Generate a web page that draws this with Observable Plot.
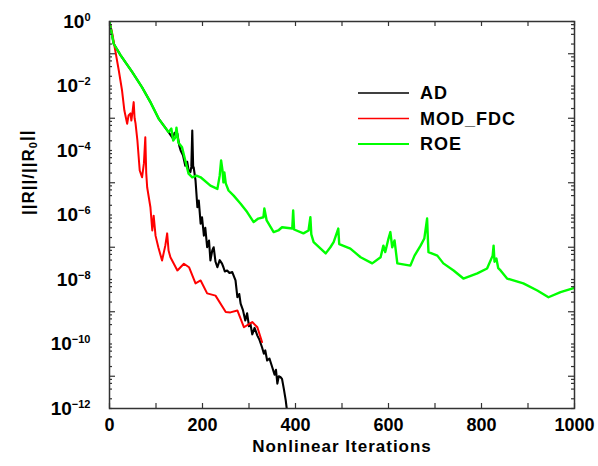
<!DOCTYPE html>
<html><head><meta charset="utf-8">
<script src="https://cdn.jsdelivr.net/npm/d3@7"></script>
<script src="https://cdn.jsdelivr.net/npm/@observablehq/plot@0.6"></script>
<style>body{margin:0;background:#fff} svg{display:block}</style>
</head><body><div id="chart"></div>
<script>
const seriesNames = ["AD", "MOD_FDC", "ROE"];
const seriesColors = ["#000000", "#ff0000", "#00ff00"];
const seriesWidths = [2.1, 2, 2.4];
const legendWidths = [1.3, 1.3, 2.2];

const xTickLabels = [0, 200, 400, 600, 800, 1000];
const xTicks = [0, 100, 200, 300, 400, 500, 600, 700, 800, 900, 1000];
const yTickLabels = [1e0, 1e-2, 1e-4, 1e-6, 1e-8, 1e-10, 1e-12];
const yLongTicks = [1e-1, 1e-3, 1e-5, 1e-7, 1e-9, 1e-11];
const yMinorMult = [1, 2, 4, 6, 8];

const xLabel = "Nonlinear Iterations";
const yLabel = "||R||/||R0||";

// AD (log10 of residual ratio)
const adIter = [0,9,24,49,70,88,106,127,136,140,146,150,153,158,163,167,170,174,176,178,180,181,185,189,192,196,199,203,206,210,214,217,221,224,228,232,237,242,245,248,253,258,264,271,275,279,282,287,292,296,300,303,307,312,318,322,328,332,335,339,344,350,355,358,361,364,368,371,375,379,382];
const adExp  = [0,-0.69,-1.05,-1.57,-2.04,-2.50,-3.02,-3.43,-3.62,-3.45,-3.48,-3.85,-4.00,-4.15,-4.47,-4.35,-4.60,-4.67,-4.50,-3.38,-4.55,-4.52,-4.93,-5.76,-5.55,-6.27,-6.07,-6.64,-6.40,-7.00,-6.79,-7.41,-7.10,-7.00,-7.45,-7.62,-7.40,-7.51,-7.62,-7.75,-7.72,-7.80,-7.77,-8.03,-8.55,-8.45,-8.75,-8.95,-9.27,-9.05,-9.45,-9.37,-9.70,-9.50,-9.74,-9.85,-10.10,-10.30,-10.20,-10.51,-10.45,-10.72,-10.95,-10.80,-11.23,-11.00,-11.03,-11.08,-11.40,-11.75,-12.10];

// MOD_FDC
const fdcIter = [0,6,13,20,27,32,38,41,45,47,50,52,54,56,60,65,70,74,77,79,81,88,92,95,99,105,113,120,124,127,131,146,160,171,185,196,210,228,250,260,275,289,307,318,328];
const fdcExp  = [0,-0.38,-0.95,-1.52,-2.14,-2.76,-3.17,-2.91,-2.85,-3.07,-2.75,-2.50,-3.00,-3.16,-3.69,-4.62,-4.83,-4.40,-3.59,-4.70,-5.14,-5.76,-6.48,-6.02,-6.64,-7.00,-7.41,-6.95,-6.57,-7.10,-7.31,-7.72,-7.51,-7.62,-8.12,-8.03,-8.43,-8.50,-9.01,-9.02,-8.96,-9.48,-9.32,-9.48,-9.94];

// ROE
const roeIter = [0,9,24,49,70,88,106,127,133,137,142,144,148,156,163,170,178,187,196,217,232,237,240,243,245,247,250,256,267,282,296,310,320,331,333,338,353,363,371,393,395,397,417,428,432,434,439,465,475,482,492,494,518,540,565,583,589,593,600,604,608,613,619,647,656,669,677,683,685,686,705,718,740,761,791,812,824,826,828,832,836,841,855,890,920,944,970,1000];
const roeExp  = [0,-0.69,-1.05,-1.57,-2.04,-2.50,-3.02,-3.43,-3.32,-3.69,-3.59,-3.29,-3.75,-3.90,-4.31,-4.72,-4.83,-4.78,-4.83,-5.09,-5.19,-4.78,-4.31,-4.62,-4.99,-4.68,-5.02,-5.24,-5.40,-5.65,-5.91,-6.22,-6.11,-6.07,-5.80,-6.17,-6.53,-6.48,-6.38,-6.42,-5.86,-6.45,-6.57,-6.48,-6.07,-6.60,-6.84,-7.19,-7.00,-6.84,-6.42,-6.90,-7.04,-7.31,-7.50,-7.31,-6.95,-7.15,-6.73,-6.53,-7.00,-6.79,-7.50,-7.57,-7.26,-6.95,-6.73,-6.11,-6.85,-7.15,-7.26,-7.50,-7.72,-7.97,-7.81,-7.66,-7.26,-6.95,-7.45,-7.35,-7.65,-7.72,-7.97,-8.12,-8.34,-8.55,-8.39,-8.26];

const rows = [];
[[adIter, adExp], [fdcIter, fdcExp], [roeIter, roeExp]].forEach(([it, ex], s) => {
  it.forEach((v, i) => rows.push({series: seriesNames[s], iter: v, r: Math.pow(10, ex[i])}));
});

const yShortTicks = [];
for (let k = 0; k <= 12; k++) {
  for (const m of yMinorMult) {
    const v = m * Math.pow(10, -k);
    if (v <= 1 && v >= 1e-12 && !(m === 1 && k % 2 === 1)) yShortTicks.push(v);
  }
}

const W = 598, H = 466, mL = 109, mR = 24, mT = 21, mB = 58;
const pw = W - mL - mR, ph = H - mT - mB;
const font = "'Liberation Sans', Arial, Helvetica, sans-serif";
const tickStroke = "#333";

const lineMarks = seriesNames.map((name, i) =>
  Plot.line(rows.filter(d => d.series === name), {x: "iter", y: "r", stroke: seriesColors[i], strokeWidth: seriesWidths[i], clip: true})
);

const plot = Plot.plot({
  width: W, height: H,
  marginLeft: mL, marginRight: mR, marginTop: mT, marginBottom: mB,
  style: {fontFamily: font, fontWeight: "bold", fontSize: "18px", color: "#000", background: "#fff"},
  x: {domain: [0, 1000]},
  y: {type: "log", domain: [1e-12, 1]},
  marks: [
    ...lineMarks,
    Plot.frame({stroke: tickStroke, strokeWidth: 1.5}),
    Plot.tickY(yLongTicks, {y: d => d, stroke: tickStroke, strokeWidth: 1.2, insetRight: pw - 6}),
    Plot.tickY(yShortTicks, {y: d => d, stroke: tickStroke, strokeWidth: 1.2, insetRight: pw - 3}),
    Plot.tickY(yLongTicks, {y: d => d, stroke: tickStroke, strokeWidth: 1.2, insetLeft: pw - 6}),
    Plot.tickY(yShortTicks, {y: d => d, stroke: tickStroke, strokeWidth: 1.2, insetLeft: pw - 3}),
    Plot.tickX(xTicks, {x: d => d, stroke: tickStroke, strokeWidth: 1.2, insetTop: ph - 5}),
    Plot.tickX(xTicks, {x: d => d, stroke: tickStroke, strokeWidth: 1.2, insetBottom: ph - 5}),
    Plot.axisX({ticks: xTickLabels, tickSize: 0, tickPadding: 10, tickFormat: d => String(d), label: null, fontSize: 18}),
    Plot.axisY({ticks: yTickLabels, tickSize: 0, tickPadding: 19, tickFormat: d => "10^" + Math.round(Math.log10(d)), label: null, fontSize: 19}),
    Plot.text([xLabel], {frameAnchor: "bottom", text: d => d, dy: 43, fontSize: 17, fontWeight: "bold"}),
    Plot.text([yLabel], {frameAnchor: "left", text: d => d, dx: -81, rotate: -90, fontSize: 17, fontWeight: "bold"})
  ]
});

const svg = d3.select(plot);
svg.selectAll("text").each(function () {
  const t = this.textContent;
  const sel = d3.select(this);
  if (/^10\^/.test(t)) {
    const e = t.slice(3).replace("-", "\u2212");
    this.textContent = "";
    sel.append("tspan").text("10");
    sel.append("tspan").attr("dy", "-0.6em").attr("font-size", "11px").text(e);
  } else if (t === xLabel) {
    sel.attr("letter-spacing", "1px");
  } else if (t === yLabel) {
    this.textContent = "";
    sel.attr("letter-spacing", "1px");
    sel.append("tspan").text("||R||/||R");
    sel.append("tspan").attr("dy", "0.3em").attr("font-size", "11px").text("0");
    sel.append("tspan").attr("dy", "-0.3em").text("||");
  }
});

// legend
const lg = svg.append("g").attr("font-family", font).attr("font-weight", "bold").attr("font-size", "18px").attr("text-anchor", "start");
const legendX = 358, legendY = 93, legendStep = 25.5;
seriesNames.forEach((name, i) => {
  const y = legendY + i * legendStep;
  lg.append("line").attr("x1", legendX).attr("x2", legendX + 51).attr("y1", y).attr("y2", y)
    .attr("stroke", seriesColors[i]).attr("stroke-width", legendWidths[i]);
  lg.append("text").attr("x", legendX + 62).attr("y", y).attr("dy", "0.35em").attr("text-anchor", "start")
    .attr("letter-spacing", "1px").attr("fill", "#000").text(name);
});

document.getElementById("chart").appendChild(plot);
</script>
</body></html>
